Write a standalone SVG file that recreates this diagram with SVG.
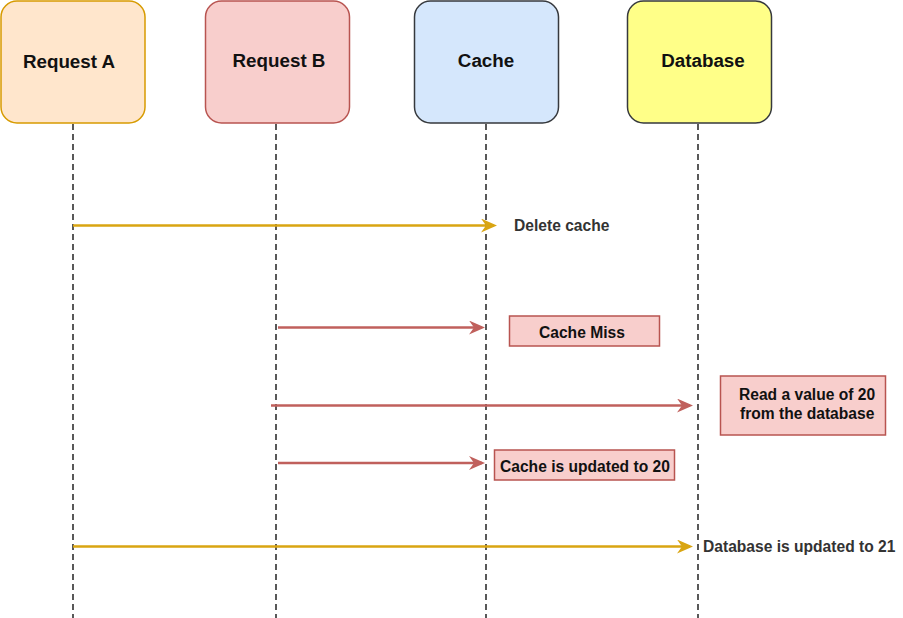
<svg xmlns="http://www.w3.org/2000/svg" width="903" height="618" viewBox="0 0 903 618">
<defs>
<style>
.node{stroke-width:1.5}
.title{font-family:"Liberation Sans",Arial,sans-serif;font-weight:bold;font-size:18.8px;fill:#111;text-anchor:middle}
.lbl{font-family:"Liberation Sans",Arial,sans-serif;font-weight:bold;font-size:15.6px;fill:#333}
.blbl{font-family:"Liberation Sans",Arial,sans-serif;font-weight:bold;font-size:15.6px;fill:#111}
.life{stroke:#000;stroke-width:1.3;stroke-dasharray:6 4;fill:none}
.ya{stroke:#d9a512;stroke-width:2.5;fill:none}
.ra{stroke:#c0605c;stroke-width:2.5;fill:none}
.box{fill:#f8cecc;stroke:#b85450;stroke-width:1.5}
</style>
<marker id="ay" markerWidth="16" markerHeight="14" refX="13" refY="7" orient="auto" markerUnits="userSpaceOnUse"><path d="M0,0 L16,7 L0,14 L5,7 Z" fill="#d9a512"/></marker>
<marker id="ar" markerWidth="16" markerHeight="14" refX="13" refY="7" orient="auto" markerUnits="userSpaceOnUse"><path d="M0,0 L16,7 L0,14 L5,7 Z" fill="#c0605c"/></marker>
</defs>
<rect width="903" height="618" fill="#fff"/>
<g id="lifelines">
<line class="life" x1="73" y1="124" x2="73" y2="618"/>
<line class="life" x1="276" y1="124" x2="276" y2="618"/>
<line class="life" x1="486" y1="124" x2="486" y2="618"/>
<line class="life" x1="698" y1="124" x2="698" y2="618"/>
</g>
<g id="requestA"><rect class="node" x="1" y="1" width="144" height="122" rx="16" fill="#ffe6cc" stroke="#d79b00"/><text class="title" x="69" y="68">Request A</text></g>
<g id="requestB"><rect class="node" x="205.5" y="1" width="144" height="122" rx="16" fill="#f8cecc" stroke="#b85450"/><text class="title" x="279" y="67">Request B</text></g>
<g id="cache"><rect class="node" x="414.5" y="1" width="144" height="122" rx="16" fill="#d5e7fc" stroke="#36393d"/><text class="title" x="486" y="67">Cache</text></g>
<g id="database"><rect class="node" x="627.5" y="1" width="144" height="122" rx="16" fill="#ffff88" stroke="#36393d"/><text class="title" x="703" y="67">Database</text></g>
<g id="connectors">
<line class="ya" x1="73" y1="225.5" x2="494" y2="225.5" marker-end="url(#ay)"/>
<line class="ra" x1="278" y1="327.5" x2="482" y2="327.5" marker-end="url(#ar)"/>
<line class="ra" x1="271" y1="405.5" x2="690" y2="405.5" marker-end="url(#ar)"/>
<line class="ra" x1="278" y1="463" x2="482" y2="463" marker-end="url(#ar)"/>
<line class="ya" x1="73" y1="546.5" x2="690" y2="546.5" marker-end="url(#ay)"/>
</g>
<g id="label-delete"><text class="lbl" x="514" y="231">Delete cache</text></g>
<g id="label-miss"><rect class="box" x="509.5" y="316" width="150" height="30"/><text class="blbl" x="539" y="338">Cache Miss</text></g>
<g id="label-read"><rect class="box" x="720.5" y="376" width="165" height="59"/><text class="blbl" x="739" y="400">Read a value of 20</text><text class="blbl" x="740" y="419">from the database</text></g>
<g id="label-updated20"><rect class="box" x="494.5" y="450" width="180" height="30"/><text class="blbl" x="500" y="472">Cache is updated to 20</text></g>
<g id="label-updated21"><text class="lbl" x="703" y="552">Database is updated to 21</text></g>
</svg>
